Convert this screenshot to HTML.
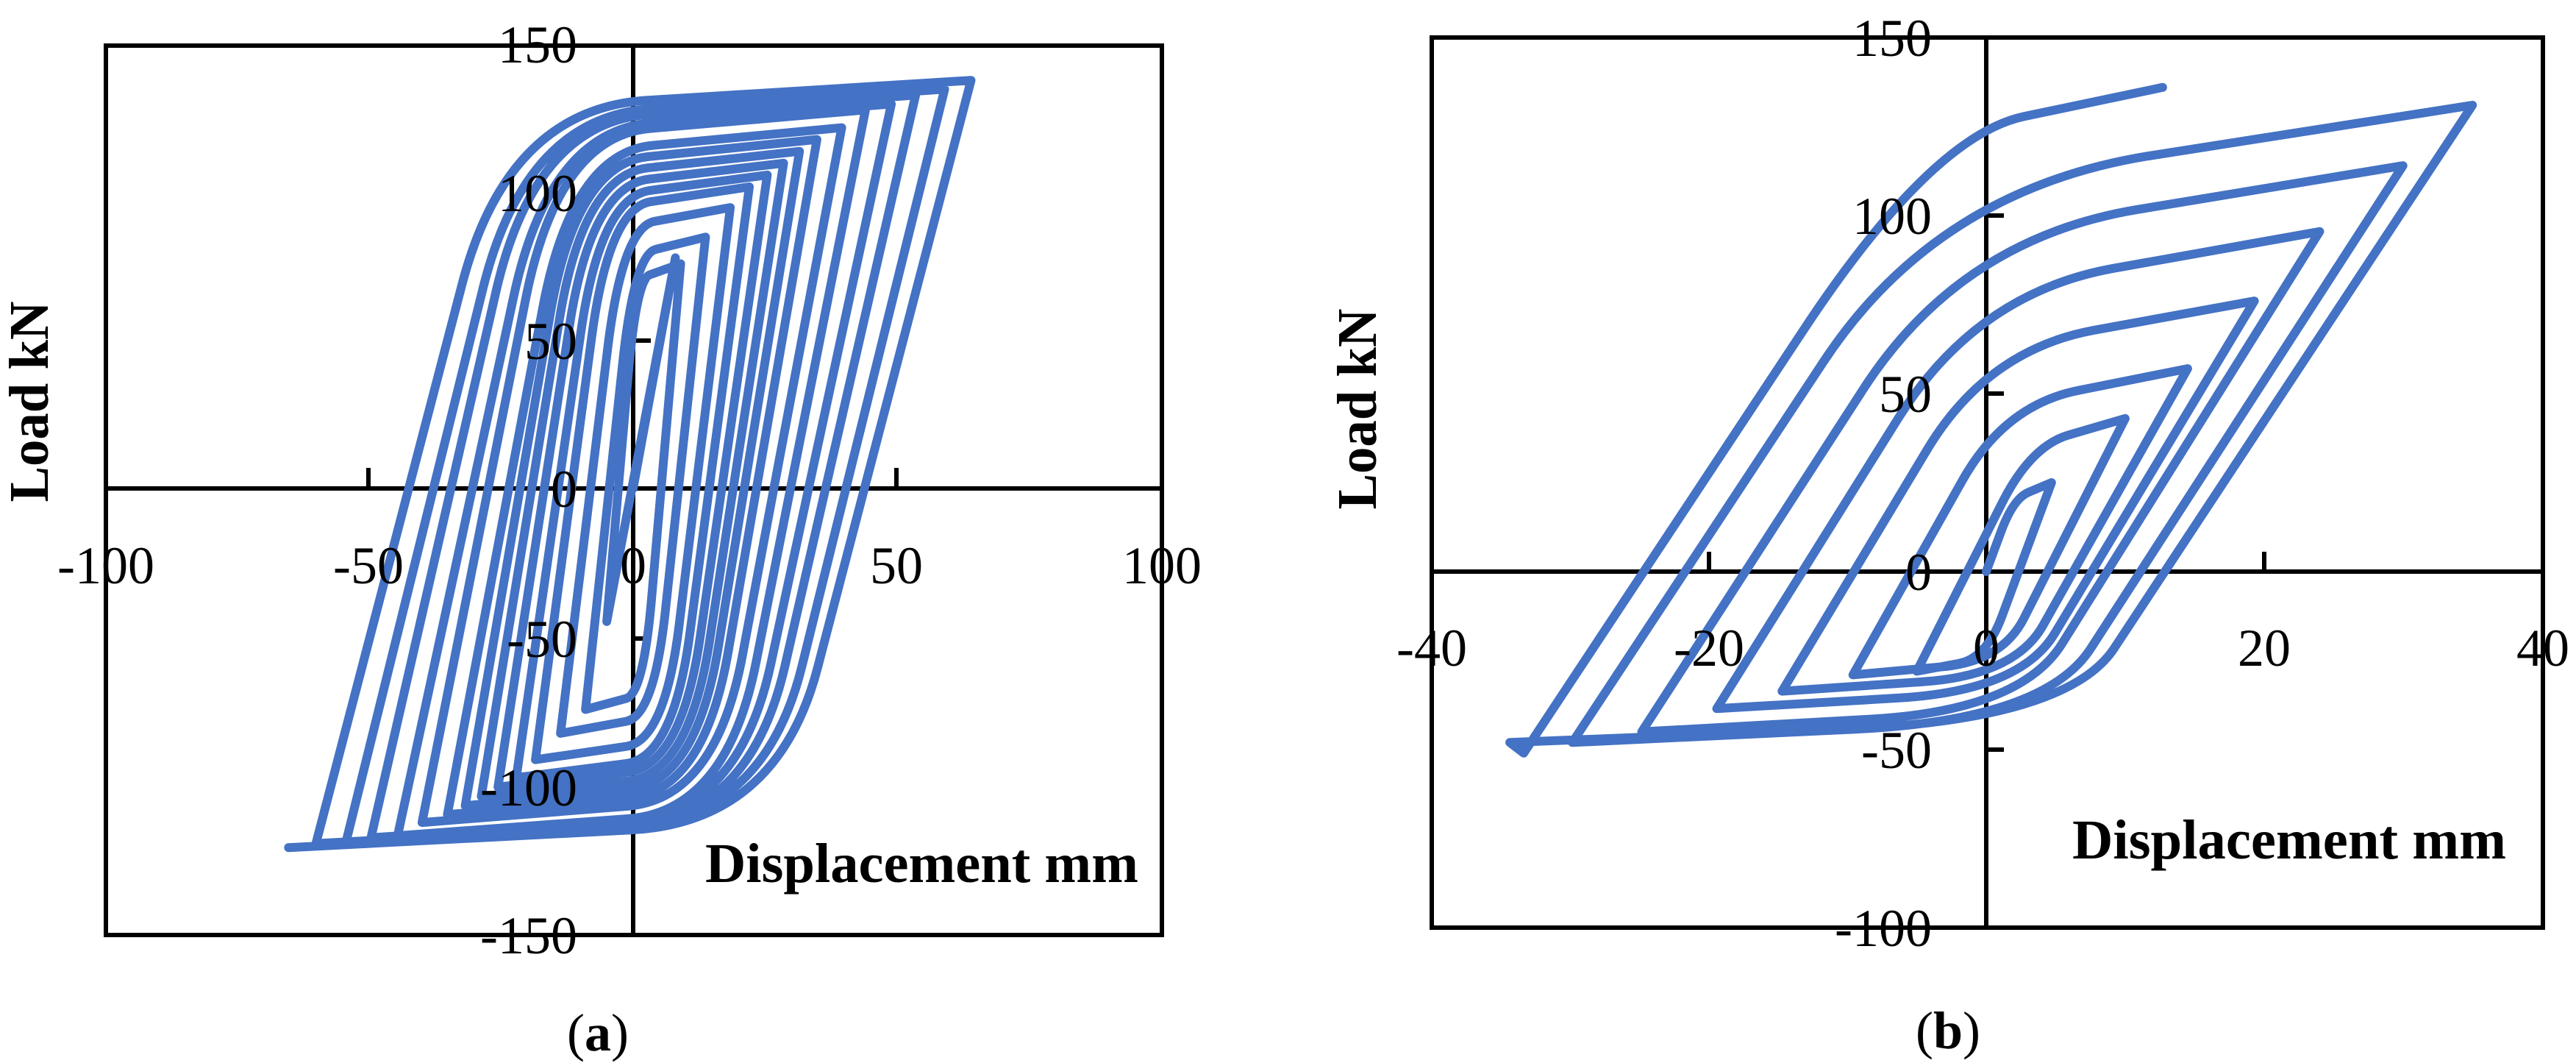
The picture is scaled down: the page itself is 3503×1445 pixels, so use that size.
<!DOCTYPE html>
<html><head><meta charset="utf-8"><style>html,body{margin:0;padding:0;background:#fff}svg{display:block}</style></head>
<body>
<svg id="s" width="3503" height="1445" viewBox="0 0 3503 1445" xmlns="http://www.w3.org/2000/svg">
<rect width="3503" height="1445" fill="#fff"/>
<g fill="none" stroke="#000" stroke-width="6">
<rect x="144" y="62" width="1436" height="1209"/>
<line x1="144" y1="664" x2="1580" y2="664"/><line x1="861" y1="62" x2="861" y2="1271"/>
<path d="M501 664V636M1219 664V636M861 262h24M861 463h24M861 868h24M861 1070h24"/>
<rect x="1947" y="51" width="1511" height="1210"/>
<line x1="1947" y1="777" x2="3458" y2="777"/><line x1="2701" y1="51" x2="2701" y2="1261"/>
<path d="M2324 777V750M3079 777V750M2701 293h24M2701 535h24M2701 1019h24"/>
</g>
<g id="curves" fill="none" stroke="#4472C4" stroke-width="12" stroke-linejoin="round" stroke-linecap="round"></g>
<g font-family="Liberation Serif, serif" font-size="72" fill="#000">
<g text-anchor="middle">
<text x="144" y="793">-100</text><text x="501" y="793">-50</text><text x="861" y="793">0</text><text x="1219" y="793">50</text><text x="1580" y="793">100</text>
<text x="1947" y="905">-40</text><text x="2324" y="905">-20</text><text x="2701" y="905">0</text><text x="3079" y="905">20</text><text x="3458" y="905">40</text>
</g>
<g text-anchor="end">
<text x="785" y="85">150</text><text x="785" y="287">100</text><text x="785" y="488">50</text><text x="785" y="689">0</text><text x="785" y="893">-50</text><text x="785" y="1095">-100</text><text x="785" y="1296">-150</text>
<text x="2627" y="76">150</text><text x="2627" y="318">100</text><text x="2627" y="560">50</text><text x="2627" y="802">0</text><text x="2627" y="1044">-50</text><text x="2627" y="1286">-100</text>
</g>
<g font-weight="bold" font-size="76">
<text x="959" y="1199" textLength="589" lengthAdjust="spacingAndGlyphs">Displacement mm</text>
<text x="2818" y="1167" textLength="590" lengthAdjust="spacingAndGlyphs">Displacement mm</text>
<text transform="translate(65,546) rotate(-90)" text-anchor="middle" textLength="273" lengthAdjust="spacingAndGlyphs">Load kN</text>
<text transform="translate(1871,556) rotate(-90)" text-anchor="middle" textLength="273" lengthAdjust="spacingAndGlyphs">Load kN</text>
</g>
<text x="813" y="1428" text-anchor="middle">(<tspan font-weight="bold">a</tspan>)</text>
<text x="2649" y="1425" text-anchor="middle">(<tspan font-weight="bold">b</tspan>)</text>
</g>
</svg>
<script>
(function(){
var g=document.getElementById('curves');
function mk(X,Y,pts){var d='';pts.forEach(function(p,i){d+=(i?(p.q?'Q':'L'):'M');if(p.q)d+=X(p.q[0]).toFixed(1)+' '+Y(p.q[1]).toFixed(1)+' ';d+=X(p[0]).toFixed(1)+' '+Y(p[1]).toFixed(1)+' ';});
var e=document.createElementNS('http://www.w3.org/2000/svg','path');e.setAttribute('d',d);g.appendChild(e);}
function branch(pts,xa,ya,xb,yb,k,el,h,cf){
 var s=yb>ya?1:-1;
 var x1=xa+(el*yb-ya)/k, kx=xa+(h*yb-ya)/k, ky=h*yb;
 if(s*(kx-xb)>=0){pts.push([xb,yb]);return;}
 pts.push([x1,el*yb]);
 var p=[kx+cf*(xb-kx),ky+cf*(yb-ky)];p.q=[kx,ky];pts.push(p);pts.push([xb,yb]);
}
var Xa=function(x){return 861+x*7.18},Ya=function(y){return 664-y*4.02};
var D=[9,13.7,18.4,22,25.4,28.5,31.5,34.8,39.5,44,48.9,53.5,59,64];
var F=[76,85,95,102,106,110,114,118,122,128,130,133,135,138];
var pa=[[0,0],[8,78],[-5,-45],[8,78],[-5,-45]];
var cx=-5,cy=-45;
for(var i=0;i<D.length;i++){
 var d=D[i],fp=F[i],fn=F[i]*(1-0.12*d/64),k=fp/(0.3*d+1);
 var dn=d*(1+0.02*d/64);
 branch(pa,cx,cy,d,fp,k,0.5,0.93,0.3);
 branch(pa,d,fp,-dn,-fn,k,0.5,0.93,0.3);
 cx=-dn;cy=-fn;
}
mk(Xa,Ya,pa);
var Xb=function(x){return 2701+x*18.89},Yb=function(y){return 777-y*4.84};
var P=[[4.7,25,5,28],[10,43,9.6,29],[14.5,57,14.7,33.6],[19.3,76,19.4,38.5],[24,95.5,24.8,45],[30,114,29.8,48],[35,131,34.3,48]];
var pb=[[0,0]];cx=0;cy=0;
P.forEach(function(q){var k=5.2+25/q[0];
 branch(pb,cx,cy,q[0],q[1],k,0.45,0.82,0.4);
 branch(pb,q[0],q[1],-q[2],-q[3],k,0.45,0.87,0.4);
 cx=-q[2];cy=-q[3];});
pb.push([-33.3,-51]);
branch(pb,-33.3,-51,12.7,136,5.9,0.5,0.9,0.4);
mk(Xb,Yb,pb);
})();
</script>
</body></html>
